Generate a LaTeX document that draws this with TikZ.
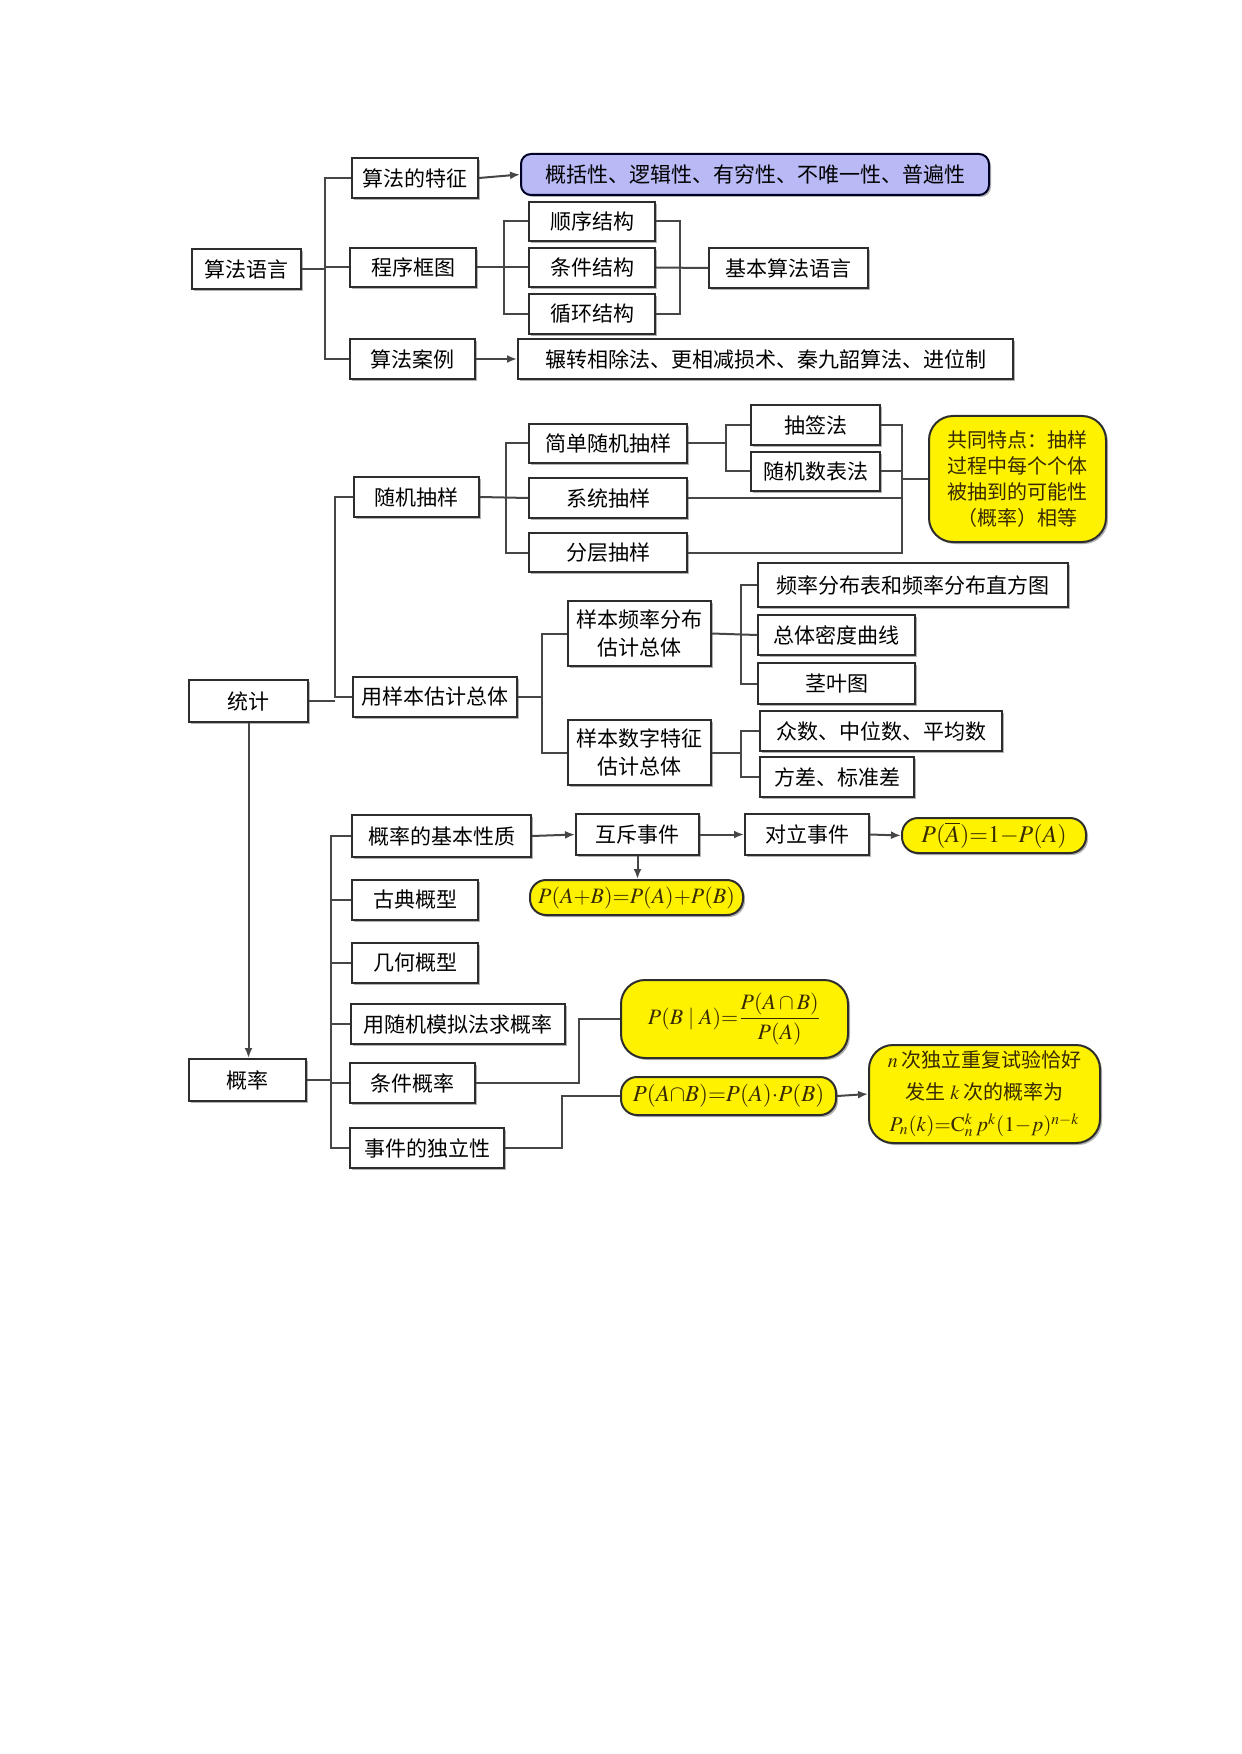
\documentclass[tikz,border=0pt]{standalone}
\usepackage{mathptmx}
\usepackage{fontspec}
\setmainfont{Noto Sans CJK SC}
\usetikzlibrary{arrows.meta,shadows}
\definecolor{lavender}{RGB}{185,185,245}
\definecolor{ybox}{RGB}{255,242,0}
\definecolor{ytext}{RGB}{55,42,0}
\definecolor{edgecol}{RGB}{45,45,45}
\definecolor{linecol}{RGB}{70,70,70}
\begin{document}
\begin{tikzpicture}[x=0.5pt,y=-0.5pt,
  span/.style n args={4}{minimum width={(#3-(#1))*0.5pt},minimum height={(#4-(#2))*0.5pt},
    at={({(#1+#3)/2},{(#2+#4)/2})}},
  box/.style={draw=edgecol,line width=1pt,fill=white,inner sep=0pt,align=center,
    font=\fontsize{10.5pt}{14pt}\selectfont,
    drop shadow={shadow xshift=1pt,shadow yshift=-1pt,fill=black,opacity=0.3}},
  purplebox/.style={box,fill=lavender,draw=black!85!blue,rounded corners=5pt},
  ybx/.style={box,fill=ybox,text=ytext,rounded corners=8pt,font=\fontsize{11pt}{14pt}\selectfont},
  ybig/.style={box,fill=ybox,text=ytext,rounded corners=12pt,font=\fontsize{10pt}{13pt}\selectfont},
  conn/.style={draw=linecol,line width=1pt},
  arr/.style={conn,-{Latex[length=5pt,width=4pt]}}]
\fill[white] (0,0) rectangle (1241,1754);
\useasboundingbox (0,0) rectangle (1241,1754);
% ---------------- section 1 ----------------
\coordinate (t1) at (324.6,0);
\coordinate (b1) at (504,0);
\coordinate (b2) at (680,0);
\node[box,span={192}{249}{301}{289}] (sfyy) {算法语言};
\node[box,span={352}{158}{478}{198}] (tz) {算法的特征};
\node[purplebox,span={521}{154}{989}{195}] (ts) {概括性、逻辑性、有穷性、不唯一性、普遍性};
\node[box,span={350}{248}{476}{287}] (cxkt) {程序框图};
\node[box,span={529}{202}{655}{241}] (sx) {顺序结构};
\node[box,span={529}{248}{655}{287}] (tjjg) {条件结构};
\node[box,span={529}{294}{655}{334}] (xh) {循环结构};
\node[box,span={709}{248}{868}{288}] (jb) {基本算法语言};
\node[box,span={350}{339}{475}{379}] (al) {算法案例};
\node[box,span={518}{339}{1013}{379}] (albox) {辗转相除法、更相减损术、秦九韶算法、进位制};
\draw[conn] (sfyy.east) -- (sfyy.east -| t1);
\draw[conn] (tz.west) -- (tz.west -| t1) -- (al.west -| t1) -- (al.west);
\draw[conn] (cxkt.west) -- (cxkt.west -| t1);
\draw[arr] (tz.east) -- (ts.west);
\draw[arr] (al.east) -- (albox.west);
\draw[conn] (cxkt.east) -- (tjjg.west);
\draw[conn] (sx.west) -- (sx.west -| b1) -- (xh.west -| b1) -- (xh.west);
\draw[conn] (sx.east) -- (sx.east -| b2) -- (xh.east -| b2) -- (xh.east);
\draw[conn] (tjjg.east) -- (jb.west);
% ---------------- section 2 ----------------
\coordinate (t2) at (335,0);
\coordinate (b3) at (505.5,0);
\coordinate (b4) at (725.6,0);
\coordinate (b5) at (902.4,0);
\coordinate (b6) at (542,0);
\coordinate (b7) at (741,0);
\node[box,span={189}{680}{308}{722}] (tongji) {统计};
\node[box,span={354}{477}{479}{517}] (sjcy) {随机抽样};
\node[box,span={529}{424}{687}{463}] (jdsj) {简单随机抽样};
\node[box,span={529}{478}{687}{518}] (xtcy) {系统抽样};
\node[box,span={529}{533}{687}{572}] (fccy) {分层抽样};
\node[box,span={751}{405}{880}{445}] (cq) {抽签法};
\node[box,span={751}{452}{880}{491}] (sjb) {随机数表法};
\node[ybig,span={929}{416}{1106}{542}] (gt) {共同特点：抽样\\过程中每个个体\\被抽到的可能性\\（概率）相等};
\node[box,span={353}{677}{517}{717}] (ybgj) {用样本估计总体};
\node[box,span={568}{601}{711}{666}] (pl) {样本频率分布\\估计总体};
\node[box,span={568}{720}{711}{785}] (sz) {样本数字特征\\估计总体};
\node[box,span={758}{563}{1068}{607}] (plb) {频率分布表和频率分布直方图};
\node[box,span={758}{615}{915}{655}] (mdqx) {总体密度曲线};
\node[box,span={758}{663}{915}{704}] (jy) {茎叶图};
\node[box,span={760}{711}{1002}{751}] (zs) {众数、中位数、平均数};
\node[box,span={760}{757}{914}{797}] (fc) {方差、标准差};
\draw[conn] (tongji.east) -- (tongji.east -| t2);
\draw[conn] (sjcy.west) -- (sjcy.west -| t2) -- (ybgj.west -| t2) -- (ybgj.west);
\draw[conn] (sjcy.east) -- (xtcy.west);
\draw[conn] (jdsj.west) -- (jdsj.west -| b3) -- (fccy.west -| b3) -- (fccy.west);
\draw[conn] (jdsj.east) -- (jdsj.east -| b4);
\draw[conn] (cq.west) -- (cq.west -| b4) -- (sjb.west -| b4) -- (sjb.west);
\draw[conn] (cq.east) -- (cq.east -| b5) -- (fccy.east -| b5) -- (fccy.east);
\draw[conn] (sjb.east) -- (sjb.east -| b5);
\draw[conn] (xtcy.east) -- (xtcy.east -| b5);
\draw[conn] (gt.west) -- (gt.west -| b5);
\draw[conn] (ybgj.east) -- (ybgj.east -| b6);
\draw[conn] (pl.west) -- (pl.west -| b6) -- (sz.west -| b6) -- (sz.west);
\draw[conn] (pl.east) -- (mdqx.west);
\draw[conn] (plb.west) -- (plb.west -| b7) -- (jy.west -| b7) -- (jy.west);
\draw[conn] (sz.east) -- (sz.east -| b7);
\draw[conn] (zs.west) -- (zs.west -| b7) -- (fc.west -| b7) -- (fc.west);
% ---------------- section 3 ----------------
\coordinate (t3) at (331,0);
\coordinate (c1) at (579,0);
\coordinate (c2) at (562,0);
\node[box,span={189}{1059}{306}{1101}] (gailv) {概率};
\node[box,span={352}{815}{531}{857}] (jbxz) {概率的基本性质};
\node[box,span={576}{814}{699}{855}] (hc) {互斥事件};
\node[box,span={745}{814}{869}{855}] (dlsj) {对立事件};
\node[ybx,span={902}{818}{1086}{853},font=\fontsize{12pt}{14pt}\selectfont] (pa) {$P(\overline{A}){=}1{-}P(A)$};
\node[ybx,span={530}{880}{743}{915}] (pab) {$P(A{+}B){=}P(A){+}P(B)$};
\node[box,span={352}{880}{478}{920}] (gd) {古典概型};
\node[box,span={352}{943}{478}{983}] (jh) {几何概型};
\node[box,span={351}{1004}{565}{1044}] (mn) {用随机模拟法求概率};
\node[box,span={350}{1063}{475}{1103}] (tjgl) {条件概率};
\node[box,span={350}{1128}{504}{1168}] (dl) {事件的独立性};
\node[ybig,span={621}{980}{848}{1058},font=\fontsize{11pt}{13pt}\selectfont] (pba) {$\displaystyle P(B\mid A){=}\frac{P(A\cap B)}{P(A)}$};
\node[ybx,span={621}{1077}{836}{1115},font=\fontsize{11.5pt}{14pt}\selectfont] (pab2) {$P(A{\cap}B){=}P(A){\cdot}P(B)$};
\node[ybig,span={869}{1045}{1100}{1143},font=\fontsize{10pt}{16pt}\selectfont] (nci) {$n$\,次独立重复试验恰好\\发生 $k$\,次的概率为\\{\fontsize{10.5pt}{16pt}\selectfont$P_n(k){=}\mathrm{C}_n^k\,p^k(1{-}p)^{n-k}$}};
\draw[arr] (tongji.south) -- (tongji.south |- gailv.north);
\draw[conn] (gailv.east) -- (gailv.east -| t3);
\draw[conn] (jbxz.west) -- (jbxz.west -| t3) -- (dl.west -| t3) -- (dl.west);
\draw[conn] (gd.west) -- (gd.west -| t3);
\draw[conn] (jh.west) -- (jh.west -| t3);
\draw[conn] (mn.west) -- (mn.west -| t3);
\draw[conn] (tjgl.west) -- (tjgl.west -| t3);
\draw[arr] (jbxz.east) -- (hc.west);
\draw[arr] (hc.east) -- (dlsj.west);
\draw[arr] (dlsj.east) -- (pa.west);
\draw[arr] (hc.south) -- (hc.south |- pab.north);
\draw[conn] (tjgl.east) -- (tjgl.east -| c1) -- (pba.west -| c1) -- (pba.west);
\draw[conn] (dl.east) -- (dl.east -| c2) -- (pab2.west -| c2) -- (pab2.west);
\draw[arr] (pab2.east) -- (nci.west);
\end{tikzpicture}
\end{document}
